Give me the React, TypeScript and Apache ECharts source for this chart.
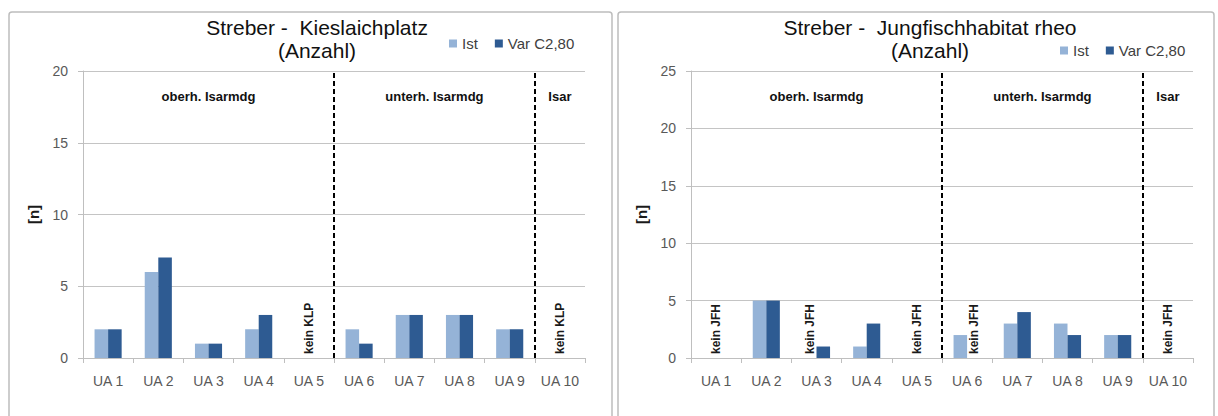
import React, { useEffect, useRef } from "react";
import * as echarts from "echarts";

const categories = ["UA 1", "UA 2", "UA 3", "UA 4", "UA 5", "UA 6", "UA 7", "UA 8", "UA 9", "UA 10"];
const seriesNames = ["Ist", "Var C2,80"];

const leftTitle = "Streber -  Kieslaichplatz\n(Anzahl)";
const leftIst = [2, 6, 1, 2, 0, 2, 3, 3, 2, 0];
const leftVar = [2, 7, 1, 3, 0, 1, 3, 3, 2, 0];
const leftMax = 20;
const leftNoteText = "kein KLP";
// which bar carries the note: "center" (no bar), 0 = Ist, 1 = Var
const leftNotes: [string, string | number][] = [["UA 5", "center"], ["UA 10", "center"]];

const rightTitle = "Streber -  Jungfischhabitat rheo\n(Anzahl)";
const rightIst = [0, 5, 0, 1, 0, 2, 3, 3, 2, 0];
const rightVar = [0, 5, 1, 3, 0, 0, 4, 2, 2, 0];
const rightMax = 25;
const rightNoteText = "kein JFH";
const rightNotes: [string, string | number][] = [
  ["UA 1", "center"], ["UA 3", 0], ["UA 5", "center"], ["UA 6", 1], ["UA 10", "center"],
];

const sections = [
  { name: "oberh. Isarmdg", from: 0, to: 5 },
  { name: "unterh. Isarmdg", from: 5, to: 9 },
  { name: "Isar", from: 9, to: 10 },
];
const sectionLabelShare = 0.91; // fraction of axis max where section names sit
const yInterval = 5;

const colors = ["#95b3d7", "#2e5b92"];
const FONT = "Liberation Sans";

const noteLabel = (text: string, pos: string) => ({
  show: true,
  position: pos,
  distance: 4,
  rotate: 90,
  align: "left",
  verticalAlign: "middle",
  formatter: text,
  color: "#1a1a1a",
  fontSize: 12,
  fontWeight: "bold",
  fontFamily: FONT,
  opacity: 1,
});

function buildChart(idx: number, ist: number[], vr: number[], max: number, notes: [string, string | number][], noteText: string) {
  const catAxis = idx * 2;
  const valAxis = idx * 2 + 1;
  const barData = (vals: number[], s: number) =>
    vals.map((v, i) => {
      const n = notes.find((nn) => nn[0] === categories[i] && nn[1] === s);
      return n ? { value: v, label: noteLabel(noteText, "insideBottom") } : v;
    });
  const series: any[] = [
    {
      type: "bar", name: seriesNames[0], xAxisIndex: catAxis, yAxisIndex: idx,
      data: barData(ist, 0), itemStyle: { color: colors[0] },
      barGap: "0%", barCategoryGap: "46%",
    },
    {
      type: "bar", name: seriesNames[1], xAxisIndex: catAxis, yAxisIndex: idx,
      data: barData(vr, 1), itemStyle: { color: colors[1] },
      barGap: "0%", barCategoryGap: "46%",
    },
    {
      type: "scatter", xAxisIndex: catAxis, yAxisIndex: idx, symbolSize: 0, silent: true,
      itemStyle: { opacity: 1 },
      data: notes.filter((n) => n[1] === "center").map((n) => [n[0], 0]),
      label: noteLabel(noteText, "top"),
    },
    {
      type: "scatter", xAxisIndex: valAxis, yAxisIndex: idx, symbolSize: 0, silent: true,
      itemStyle: { opacity: 1 },
      data: sections.map((s) => [(s.from + s.to) / 2, max * sectionLabelShare, s.name]),
      label: {
        show: true, position: "inside", formatter: (p: any) => p.data[2],
        color: "#111", fontSize: 13, fontWeight: "bold", fontFamily: FONT,
      },
      markLine: {
        silent: true, symbol: ["none", "none"], label: { show: false },
        lineStyle: { color: "#000", type: [5, 3], width: 2 },
        data: sections.slice(0, -1).map((s) => ({ xAxis: s.to })),
      },
    },
  ];
  return series;
}

export default function App() {
  const ref = useRef<HTMLDivElement>(null);
  useEffect(() => {
    if (!ref.current) return;
    const chart = echarts.init(ref.current, undefined, { renderer: "svg" });
    const grids = [
      { left: 83, top: 71, width: 502, height: 287 },
      { left: 691, top: 71, width: 502, height: 287 },
    ];
    const xAxes: any[] = [];
    const yAxes: any[] = [];
    [leftMax, rightMax].forEach((max, g) => {
      xAxes.push({
        type: "category", gridIndex: g, data: categories,
        axisLine: { lineStyle: { color: "#bfbfbf", width: 1 } },
        axisTick: { show: true, length: 5, lineStyle: { color: "#bfbfbf" } },
        axisLabel: { color: "#595959", fontSize: 14, fontFamily: FONT, margin: 16, interval: 0 },
      });
      xAxes.push({ type: "value", gridIndex: g, min: 0, max: categories.length, show: false });
      yAxes.push({
        type: "value", gridIndex: g, min: 0, max, interval: yInterval,
        name: "[n]", nameLocation: "middle", nameGap: 42, nameRotate: 90,
        nameTextStyle: { color: "#1a1a1a", fontSize: 15, fontWeight: "bold", fontFamily: FONT },
        axisLine: { show: true, lineStyle: { color: "#bfbfbf" } },
        axisTick: { show: true, length: 5, lineStyle: { color: "#bfbfbf" } },
        axisLabel: { color: "#595959", fontSize: 14, fontFamily: FONT, margin: 15 },
        splitLine: { lineStyle: { color: "#c4c4c4", width: 1 } },
      });
    });
    const legendBase = {
      data: seriesNames, itemWidth: 8, itemHeight: 8, itemGap: 17, padding: 0,
      icon: "rect", textStyle: { color: "#404040", fontSize: 15, fontFamily: FONT },
      selectedMode: false,
    };
    const titleStyle = { fontSize: 21, fontWeight: "normal", color: "#111", fontFamily: FONT, lineHeight: 23 };
    chart.setOption({
      animation: false,
      backgroundColor: "#ffffff",
      title: [
        { text: leftTitle, left: 312, top: 11, textAlign: "center", textStyle: titleStyle },
        { text: rightTitle, left: 925, top: 11, textAlign: "center", textStyle: titleStyle },
      ],
      legend: [
        { ...legendBase, left: 449, top: 36 },
        { ...legendBase, left: 1060, top: 43 },
      ],
      grid: grids,
      xAxis: xAxes,
      yAxis: yAxes,
      series: [
        ...buildChart(0, leftIst, leftVar, leftMax, leftNotes, leftNoteText),
        ...buildChart(1, rightIst, rightVar, rightMax, rightNotes, rightNoteText),
      ],
      graphic: [
        { type: "rect", z: -10, silent: true, shape: { x: 9, y: 12, width: 603, height: 430, r: 3 },
          style: { fill: "none", stroke: "#bdbdbd", lineWidth: 1.5 } },
        { type: "rect", z: -10, silent: true, shape: { x: 618, y: 12, width: 596, height: 430, r: 3 },
          style: { fill: "none", stroke: "#bdbdbd", lineWidth: 1.5 } },
      ],
    });
    return () => chart.dispose();
  }, []);
  return (
    <div
      ref={ref}
      style={{ position: "absolute", left: 0, top: 0, width: 1218, height: 416, background: "#fff" }}
    />
  );
}
